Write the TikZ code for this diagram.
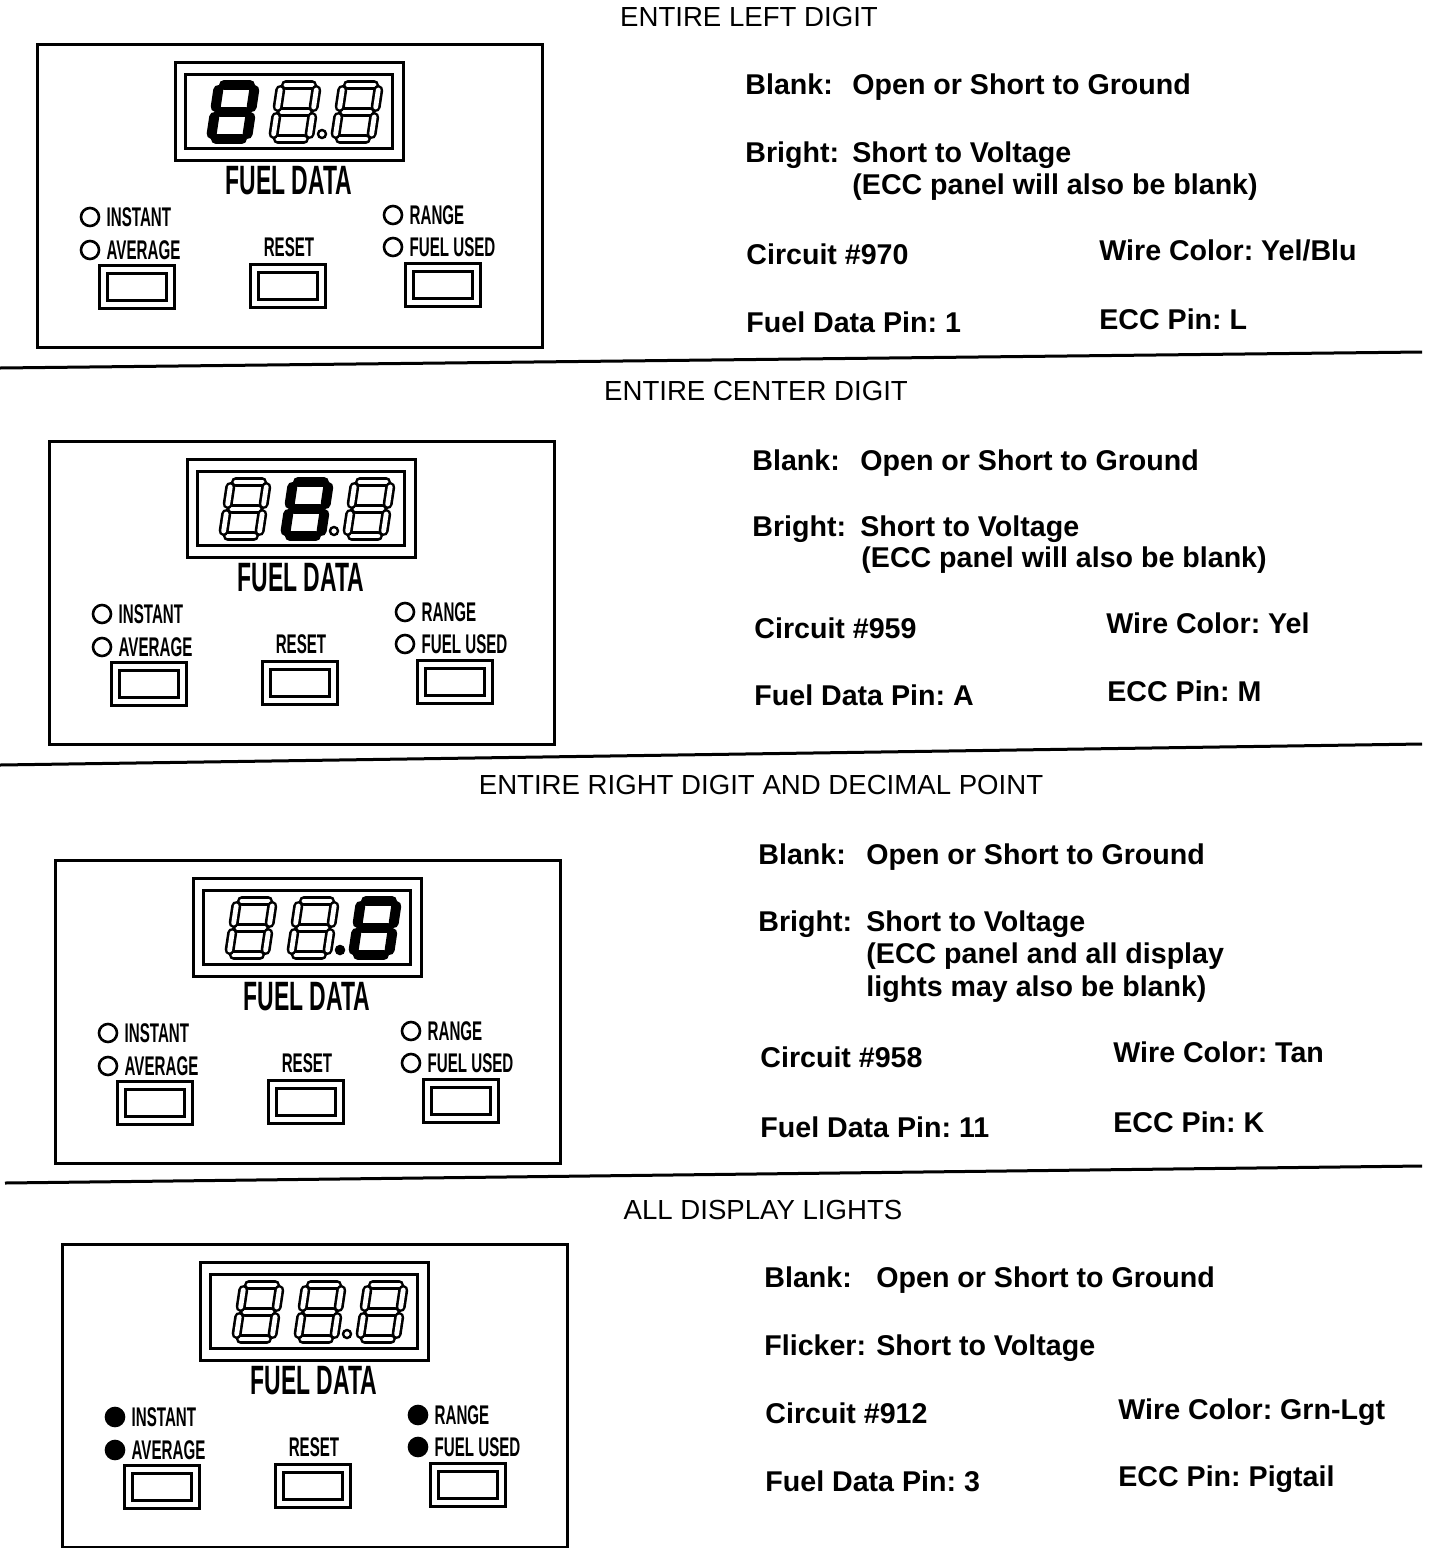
\documentclass[tikz,border=0pt]{standalone}
\usepackage{fontspec}
\setmainfont{Liberation Sans}
\usetikzlibrary{positioning}
\frenchspacing

\tikzset{
  panelline/.style={line width=1.5pt},
  seglit/.style={line width=5pt, line cap=round},
  segoff/.style={line width=1.3pt, double=white, double distance=2.4pt, line cap=round},
  lampoff/.style={circle, draw, line width=1.3pt, fill=white, minimum size=9pt, inner sep=0pt},
  lampon/.style={lampoff, fill=black},
  btn/.style={draw, line width=1.4pt, double=white, double distance=2.6pt,
    minimum width=33.5pt, minimum height=17.5pt, inner sep=0pt},
  cond/.style={inner sep=0pt, font=\fontsize{13.5}{15}\selectfont\bfseries},
  rowtitle/.style={inner sep=0pt, font=\fontsize{13.8}{16}\selectfont},
  infotext/.style={inner sep=0pt, anchor=base west, font=\fontsize{14.3}{17}\selectfont\bfseries},
  divider/.style={line width=1.5pt},
}

\newcommand{\condtext}[1]{\scalebox{0.56}[1]{#1}}

% one slanted seven segment digit
\newcommand{\segdigit}[2]{%
  \begin{scope}[shift={#1}, xslant=0.15]
    \foreach \xa/\ya/\xb/\yb in {5/0/31/0, 5/27/31/27, 5/54/31/54,
        0/5/0/22, 0/32/0/49, 36/5/36/22, 36/32/36/49}
      \draw[#2] (\xa,\ya) -- (\xb,\yb);
  \end{scope}}

% fuel data panel: prefix, shift, left, center, right digit, point fill, lamp style
\newcommand{\fuelpanel}[7]{%
  \begin{scope}[shift={#2}]
    \draw[panelline] (0,0) rectangle (505,303);
    \draw[panelline] (138,18) rectangle (366,116);
    \draw[panelline] (148,30) rectangle (355,104);
    \segdigit{(182,41)}{#3}
    \segdigit{(244,41)}{#4}
    \segdigit{(306,41)}{#5}
    \draw[line width=1.2pt, fill=#6] (285,90) circle (4);
    \node[cond, font=\fontsize{20.5}{22}\selectfont\bfseries] (#1data) at (252,137) {\condtext{FUEL DATA}};
    \node[#7] (#1inst) at (53,173) {};
    \node[cond, right=3pt of #1inst] (#1instl) {\condtext{INSTANT}};
    \node[#7] (#1avg) at (53,206) {};
    \node[cond, right=3pt of #1avg] (#1avgl) {\condtext{AVERAGE}};
    \node[cond] (#1rstl) at (252,203) {\condtext{RESET}};
    \node[#7] (#1rng) at (356,171) {};
    \node[cond, right=3pt of #1rng] (#1rngl) {\condtext{RANGE}};
    \node[#7] (#1used) at (356,203) {};
    \node[cond, right=3pt of #1used] (#1usedl) {\condtext{FUEL USED}};
    \node[btn] (#1bavg) at (100,243) {};
    \node[btn] (#1brst) at (251,242) {};
    \node[btn] (#1bused) at (406,241) {};
  \end{scope}}

\begin{document}
\begin{tikzpicture}[x=0.5pt, y=-0.5pt]
\useasboundingbox (0,0) rectangle (1440,1548);

% panels
\fuelpanel{pa}{(37,44)}{seglit}{segoff}{segoff}{white}{lampoff}
\fuelpanel{pb}{(49,441)}{segoff}{seglit}{segoff}{white}{lampoff}
\fuelpanel{pc}{(55,860)}{segoff}{segoff}{seglit}{black}{lampoff}
\fuelpanel{pd}{(62,1244)}{segoff}{segoff}{segoff}{white}{lampon}

% dividers
\draw[divider] (0,368) -- (1422,352);
\draw[divider] (0,765) -- (1422,744);
\draw[divider] (5,1183) -- (1422,1166);

% left digit
\node[rowtitle] (ha) at (749,17) {ENTIRE LEFT DIGIT};
\node[infotext] (ablank) at (745,94) {Blank:};
\node[infotext] (aopen) at (852,94) {Open or Short to Ground};
\node[infotext] (abright) at (745,162) {Bright:};
\node[infotext] (ashort) at (852,162) {Short to Voltage};
\node[infotext] (aecc) at (852,194) {(ECC panel will also be blank)};
\node[infotext] (acirc) at (746,264) {Circuit \#970};
\node[infotext] (awire) at (1099,260) {Wire Color: Yel/Blu};
\node[infotext] (apin) at (746,332) {Fuel Data Pin: 1};
\node[infotext] (aeccpin) at (1099,329) {ECC Pin: L};

% center digit
\node[rowtitle] (hb) at (756,391) {ENTIRE CENTER DIGIT};
\node[infotext] (bblank) at (752,470) {Blank:};
\node[infotext] (bopen) at (860,470) {Open or Short to Ground};
\node[infotext] (bbright) at (752,536) {Bright:};
\node[infotext] (bshort) at (860,536) {Short to Voltage};
\node[infotext] (becc) at (861,567) {(ECC panel will also be blank)};
\node[infotext] (bcirc) at (754,638) {Circuit \#959};
\node[infotext] (bwire) at (1106,633) {Wire Color: Yel};
\node[infotext] (bpin) at (754,705) {Fuel Data Pin: A};
\node[infotext] (beccpin) at (1107,701) {ECC Pin: M};

% right digit and decimal point
\node[rowtitle] (hc) at (761,785) {ENTIRE RIGHT DIGIT AND DECIMAL POINT};
\node[infotext] (cblank) at (758,864) {Blank:};
\node[infotext] (copen) at (866,864) {Open or Short to Ground};
\node[infotext] (cbright) at (758,931) {Bright:};
\node[infotext] (cshort) at (866,931) {Short to Voltage};
\node[infotext] (cecc) at (866,963) {(ECC panel and all display};
\node[infotext] (clights) at (866,996) {lights may also be blank)};
\node[infotext] (ccirc) at (760,1067) {Circuit \#958};
\node[infotext] (cwire) at (1113,1062) {Wire Color: Tan};
\node[infotext] (cpin) at (760,1137) {Fuel Data Pin: 11};
\node[infotext] (ceccpin) at (1113,1132) {ECC Pin: K};

% all display lights
\node[rowtitle] (hd) at (763,1210) {ALL DISPLAY LIGHTS};
\node[infotext] (dblank) at (764,1287) {Blank:};
\node[infotext] (dopen) at (876,1287) {Open or Short to Ground};
\node[infotext] (dflick) at (764,1355) {Flicker:};
\node[infotext] (dshort) at (876,1355) {Short to Voltage};
\node[infotext] (dcirc) at (765,1423) {Circuit \#912};
\node[infotext] (dwire) at (1118,1419) {Wire Color: Grn-Lgt};
\node[infotext] (dpin) at (765,1491) {Fuel Data Pin: 3};
\node[infotext] (deccpin) at (1118,1486) {ECC Pin: Pigtail};
\end{tikzpicture}
\end{document}
